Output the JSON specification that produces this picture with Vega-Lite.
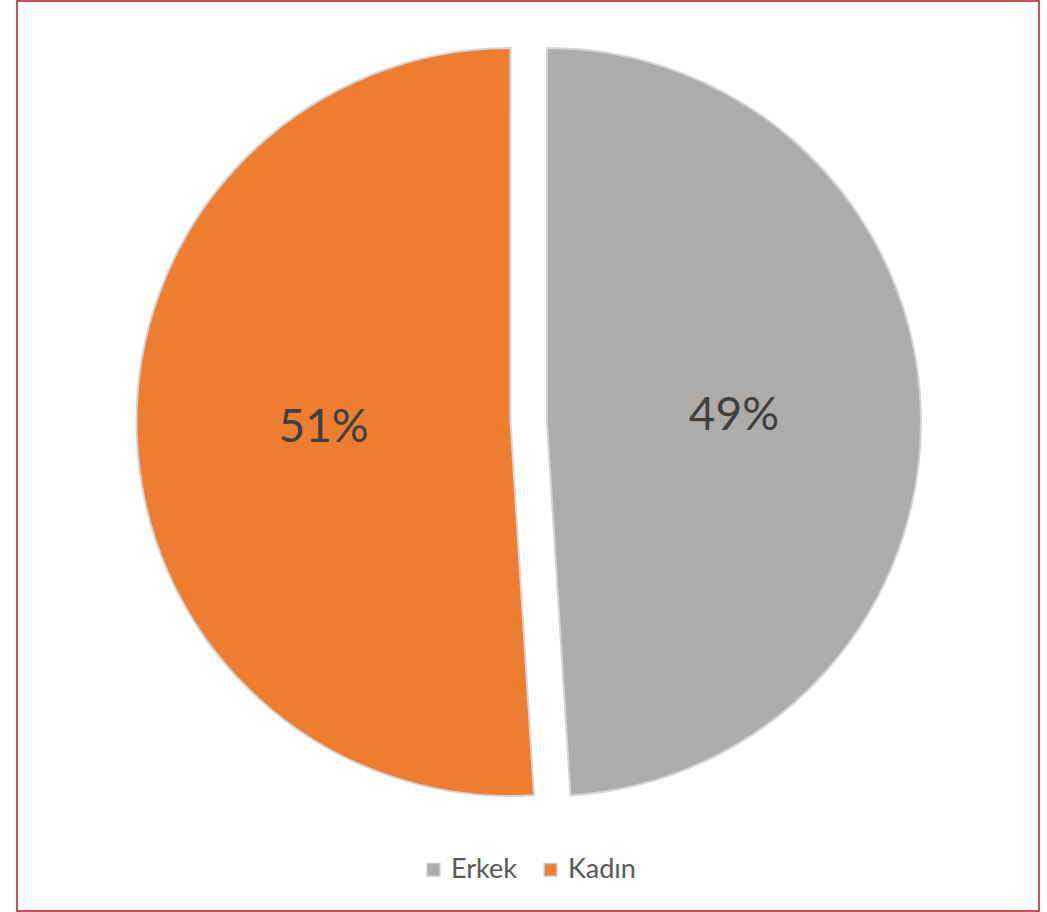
{
  "$schema": "https://vega.github.io/schema/vega-lite/v6.json",
  "width": 1022,
  "height": 910,
  "autosize": {"type": "none"},
  "padding": {"left": 17, "top": 1, "right": 8, "bottom": 1},
  "background": "white",
  "config": {
    "view": {"stroke": null},
    "font": "Lato"
  },
  "data": {
    "values": [
      {"cinsiyet": "Erkek", "oran": 0.49},
      {"cinsiyet": "Kadın", "oran": 0.51}
    ]
  },
  "layer": [
    {
      "mark": {"type": "rect", "fill": null, "stroke": "#d05050", "strokeWidth": 2},
      "encoding": {
        "x": {"value": 0},
        "x2": {"value": {"expr": "width"}},
        "y": {"value": 0},
        "y2": {"value": {"expr": "height"}}
      }
    },
    {
      "encoding": {
        "theta": {"field": "oran", "type": "quantitative", "stack": true},
        "color": {
          "field": "cinsiyet",
          "type": "nominal",
          "scale": {"domain": ["Erkek", "Kadın"], "range": ["#AEABAB", "#ED7D31"]},
          "legend": {
            "title": null,
            "orient": "none",
            "direction": "horizontal",
            "legendX": 403,
            "legendY": 855,
            "symbolType": "square",
            "symbolSize": 160,
            "symbolStrokeColor": "#c8c8c8",
            "symbolStrokeWidth": 1.5,
            "symbolOpacity": 1,
            "labelFont": "Lato",
            "labelFontSize": 27,
            "labelColor": "#595959",
            "labelOffset": 4,
            "columnPadding": 20
          }
        }
      },
      "layer": [
        {
          "mark": {"type": "arc", "outerRadius": 374, "xOffset": 19, "yOffset": -34, "stroke": "#d4d4d4", "strokeWidth": 2},
          "encoding": {
            "opacity": {"condition": {"test": "datum.cinsiyet === 'Erkek'", "value": 1}, "value": 0}
          }
        },
        {
          "mark": {"type": "arc", "outerRadius": 374, "xOffset": -17.5, "yOffset": -34, "stroke": "#d4d4d4", "strokeWidth": 2},
          "encoding": {
            "opacity": {"condition": {"test": "datum.cinsiyet === 'Kadın'", "value": 1}, "value": 0}
          }
        },
        {
          "mark": {"type": "text", "radius": 187, "xOffset": 19, "yOffset": -34, "fontSize": 46, "font": "Lato", "align": "center", "baseline": "middle"},
          "encoding": {
            "text": {"field": "oran", "type": "quantitative", "format": ".0%"},
            "opacity": {"condition": {"test": "datum.cinsiyet === 'Erkek'", "value": 1}, "value": 0},
            "color": {"value": "#404040"}
          }
        },
        {
          "mark": {"type": "text", "radius": 187, "xOffset": -17.5, "yOffset": -34, "fontSize": 46, "font": "Lato", "align": "center", "baseline": "middle"},
          "encoding": {
            "text": {"field": "oran", "type": "quantitative", "format": ".0%"},
            "opacity": {"condition": {"test": "datum.cinsiyet === 'Kadın'", "value": 1}, "value": 0},
            "color": {"value": "#404040"}
          }
        }
      ]
    }
  ]
}
